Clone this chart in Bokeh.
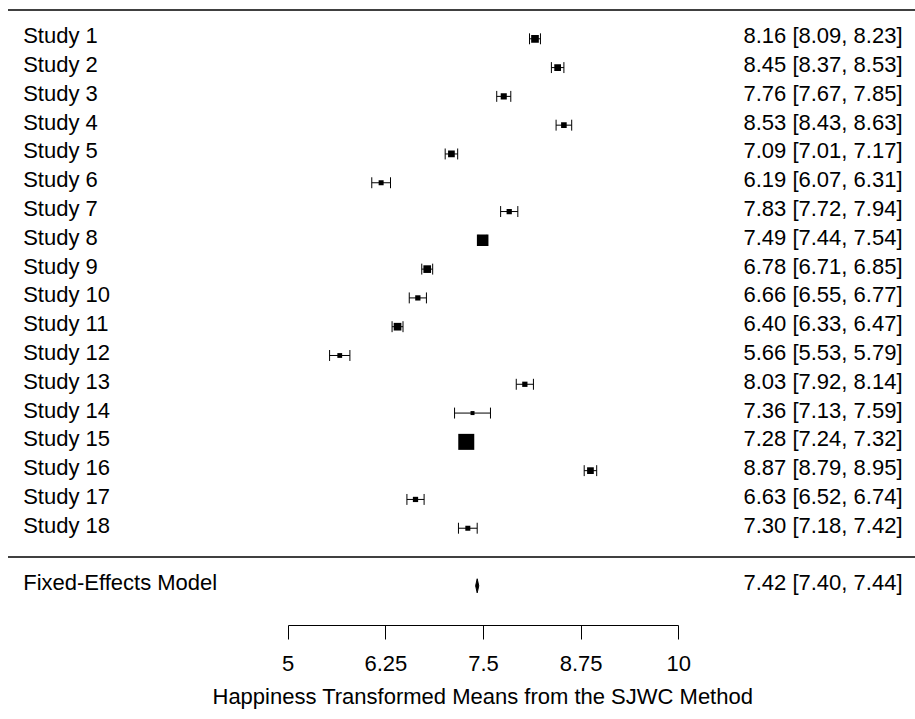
import numpy as np
from bokeh.plotting import figure
from bokeh.models import Range1d, FixedTicker, ColumnDataSource, Title
from bokeh.core.properties import value
from bokeh.embed import file_html
from bokeh.resources import INLINE

# ---------------- data ----------------
studies = ["Study 1", "Study 2", "Study 3", "Study 4", "Study 5", "Study 6",
           "Study 7", "Study 8", "Study 9", "Study 10", "Study 11", "Study 12",
           "Study 13", "Study 14", "Study 15", "Study 16", "Study 17", "Study 18"]
est = [8.16, 8.45, 7.76, 8.53, 7.09, 6.19, 7.83, 7.49, 6.78, 6.66, 6.40, 5.66,
       8.03, 7.36, 7.28, 8.87, 6.63, 7.30]
ci_lo = [8.09, 8.37, 7.67, 8.43, 7.01, 6.07, 7.72, 7.44, 6.71, 6.55, 6.33, 5.53,
         7.92, 7.13, 7.24, 8.79, 6.52, 7.18]
ci_hi = [8.23, 8.53, 7.85, 8.63, 7.17, 6.31, 7.94, 7.54, 6.85, 6.77, 6.47, 5.79,
         8.14, 7.59, 7.32, 8.95, 6.74, 7.42]
fe_label = "Fixed-Effects Model"
fe_est = 7.42
fe_lo = 7.40
fe_hi = 7.44
tick_values = [5, 6.25, 7.5, 8.75, 10]
tick_labels = ["5", "6.25", "7.5", "8.75", "10"]
x_title = "Happiness Transformed Means from the SJWC Method"

# ---------------- layout constants ----------------
W, H = 915, 719
FRAME_H = 625
px_per_unit = 78.1
x_axis_left_px = 287.7
x0 = tick_values[0] - x_axis_left_px / px_per_unit
x1 = x0 + W / px_per_unit
row_px = 28.79
row1_px = 38.3
y_top = 18 + row1_px / row_px
y_bot = 18 - (FRAME_H - row1_px) / row_px

FONT = value("Liberation Sans")
FS = "22px"
TXT_DY = -3

k = len(studies)
rows = np.arange(k, 0, -1).astype(float)
fe_row = -1.0

est_a = np.array(est)
lo_a = np.array(ci_lo)
hi_a = np.array(ci_hi)
w = (3.92 / (hi_a - lo_a)) ** 2
sizes = 4 + 12 * (w - w.min()) / (w.max() - w.min())

labels_right = [f"{e:.2f} [{l:.2f}, {h:.2f}]" for e, l, h in zip(est, ci_lo, ci_hi)]

src = ColumnDataSource(dict(
    study=studies, est=est_a, lo=lo_a, hi=hi_a, row=rows,
    cap0=rows - 0.19, cap1=rows + 0.19, size=sizes, rlab=labels_right,
))

p = figure(width=W, height=H, x_range=Range1d(x0, x1), y_range=Range1d(y_bot, y_top),
           toolbar_location=None, output_backend="svg", y_axis_location=None,
           min_border=0, min_border_bottom=H - FRAME_H)
p.outline_line_color = None
p.grid.visible = False
p.background_fill_color = "white"
p.border_fill_color = "white"

# horizontal separator lines
line_x0 = x0 + 7.5 / px_per_unit
p.segment(x0=[line_x0, line_x0], x1=[x1, x1], y0=[k + 1, 0], y1=[k + 1, 0],
          line_color="black", line_width=1.3)

# CIs
p.segment(x0="lo", x1="hi", y0="row", y1="row", source=src, line_color="black", line_width=1)
p.segment(x0="lo", x1="lo", y0="cap0", y1="cap1", source=src, line_color="black", line_width=1)
p.segment(x0="hi", x1="hi", y0="cap0", y1="cap1", source=src, line_color="black", line_width=1)
p.scatter(x="est", y="row", size="size", marker="square", source=src,
          fill_color="black", line_color=None)

# fixed-effects diamond
dh = 0.245
p.patch(x=[fe_lo, fe_est, fe_hi, fe_est], y=[fe_row, fe_row + dh, fe_row, fe_row - dh],
        fill_color="black", line_color="black", line_width=1)

# texts
lab_x = x0 + 22.7 / px_per_unit
rlab_x = x0 + 902.0 / px_per_unit
p.text(x=lab_x, y="row", text="study", source=src, text_font=FONT, text_font_size=FS,
       text_baseline="middle", text_align="left", text_color="black", y_offset=TXT_DY)
p.text(x=rlab_x, y="row", text="rlab", source=src, text_font=FONT, text_font_size=FS,
       text_baseline="middle", text_align="right", text_color="black", y_offset=TXT_DY)
p.text(x=[lab_x], y=[fe_row], text=[fe_label], text_font=FONT, text_font_size=FS,
       text_baseline="middle", text_align="left", text_color="black", y_offset=TXT_DY)
p.text(x=[rlab_x], y=[fe_row], text=[f"{fe_est:.2f} [{fe_lo:.2f}, {fe_hi:.2f}]"],
       text_font=FONT, text_font_size=FS, text_baseline="middle", text_align="right",
       text_color="black", y_offset=TXT_DY)

# x axis
ax = p.xaxis[0]
ax.ticker = FixedTicker(ticks=tick_values)
ax.major_label_overrides = {v: s for v, s in zip(tick_values, tick_labels)}
ax.bounds = (tick_values[0], tick_values[-1])
ax.minor_tick_line_color = None
ax.major_tick_in = 0
ax.major_tick_out = 14
ax.axis_line_color = "black"
ax.major_tick_line_color = "black"
ax.major_label_text_font = "Liberation Sans"
ax.major_label_text_font_size = FS
ax.major_label_text_color = "black"
ax.major_label_standoff = 16

# axis title, centred under the axis line (5..10), not the whole frame
xt = Title(text=x_title, align="left", offset=212, standoff=17,
           text_font="Liberation Sans", text_font_size=FS, text_font_style="normal",
           text_color="black")
p.add_layout(xt, "below")

open("out.html", "w").write(file_html(p, INLINE))
